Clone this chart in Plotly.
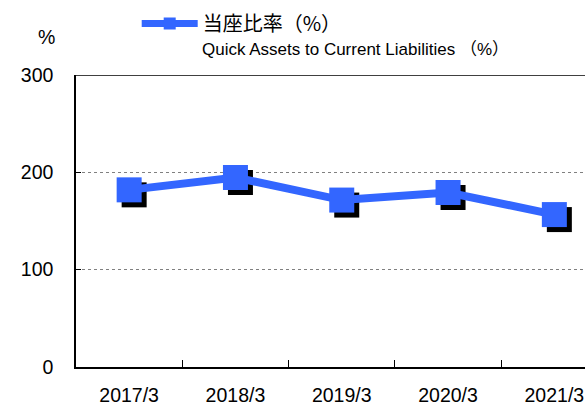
import plotly.graph_objects as go

categories = ["2017/3", "2018/3", "2019/3", "2020/3", "2021/3"]
quick_ratio = [182.0, 194.7, 171.5, 179.3, 156.6]
y_ticks = [0, 100, 200, 300]
legend_name = "当座比率（%）"
legend_sub = "Quick Assets to Current Liabilities （%）"
unit_label = "%"

BLUE = "#3366FF"
FONT = "Liberation Sans, Arial, Noto Sans CJK JP"
CJK = "Noto Sans CJK JP"

W, H = 585, 408
ML, MR, MT, MB = 76, 0, 75, 41
plot_w = W - ML - MR
plot_h = H - MT - MB
cat_w = 106.3
xr = [-0.5, -0.5 + plot_w / cat_w]
yr = [0, 300]
# shadow offset (5 px right and down)
dx = 5 / cat_w
dy = 5 * (yr[1] - yr[0]) / plot_h

fig = go.Figure()

fig.add_trace(go.Scatter(x=categories, y=quick_ratio, mode="markers",
                         marker=dict(opacity=0), showlegend=False,
                         hoverinfo="skip", xaxis="x", yaxis="y"))
fig.add_trace(go.Scatter(x=categories, y=quick_ratio, mode="markers",
                         marker=dict(symbol="square", size=25, color="black"),
                         showlegend=False, hoverinfo="skip",
                         xaxis="x2", yaxis="y2"))
fig.add_trace(go.Scatter(x=categories, y=quick_ratio, mode="lines+markers",
                         line=dict(color=BLUE, width=8),
                         marker=dict(symbol="square", size=25, color=BLUE),
                         showlegend=False, xaxis="x3", yaxis="y3"))
fig.add_trace(go.Scatter(x=[None], y=[None], mode="lines+markers",
                         name=legend_name,
                         line=dict(color=BLUE, width=7),
                         marker=dict(symbol="square", size=12, color=BLUE),
                         xaxis="x3", yaxis="y3"))

fig.update_layout(
    width=W, height=H,
    margin=dict(l=ML, r=MR, t=MT, b=MB, autoexpand=False),
    paper_bgcolor="white", plot_bgcolor="white",
    font=dict(family=FONT, size=19, color="black"),
    xaxis=dict(type="category", categoryorder="array", categoryarray=categories,
               range=xr, showline=True, linecolor="black", linewidth=1.5,
               ticks="inside", tickson="boundaries", ticklen=7, tickcolor="black",
               tickwidth=1, showgrid=False, zeroline=False, automargin=False,
               ticklabelstandoff=10, tickfont=dict(size=19.5)),
    yaxis=dict(range=yr, tickvals=y_ticks, showline=True, linecolor="black",
               linewidth=1.5, ticks="inside", ticklen=5, tickcolor="black",
               showgrid=True, gridcolor="#808080", griddash="dot", gridwidth=1,
               zeroline=False, automargin=False,
               ticklabelstandoff=17, tickfont=dict(size=19.5)),
    xaxis2=dict(type="category", categoryorder="array", categoryarray=categories,
                range=[xr[0] - dx, xr[1] - dx], overlaying="x", visible=False),
    yaxis2=dict(range=[yr[0] + dy, yr[1] + dy], overlaying="y", visible=False),
    xaxis3=dict(type="category", categoryorder="array", categoryarray=categories,
                range=xr, overlaying="x", visible=False),
    yaxis3=dict(range=yr, overlaying="y", visible=False),
    showlegend=True,
    legend=dict(x=(136.7 - ML) / plot_w, xanchor="left",
                y=1 + (MT - 4) / plot_h, yanchor="top",
                itemwidth=56, bgcolor="rgba(0,0,0,0)",
                font=dict(family=CJK, size=20, color="black")),
    shapes=[dict(type="line", xref="paper", yref="y", x0=0, x1=1, y0=300, y1=300,
                 line=dict(color="black", width=1.5), layer="above")],
    annotations=[
        dict(text=legend_sub, xref="paper", yref="paper",
             x=(200 - ML) / plot_w, xanchor="left",
             y=1 + (MT - 49) / plot_h, yanchor="middle", showarrow=False,
             font=dict(family=FONT, size=17, color="black")),
        dict(text=unit_label, xref="paper", yref="paper",
             x=(46 - ML) / plot_w, xanchor="center",
             y=1 + (MT - 37) / plot_h, yanchor="middle", showarrow=False,
             font=dict(family=FONT, size=19.5, color="black")),
    ],
)

fig.write_html("out.html",
               config={"displayModeBar": False},
               post_script="document.body.style.margin='0';document.body.style.padding='0';")
